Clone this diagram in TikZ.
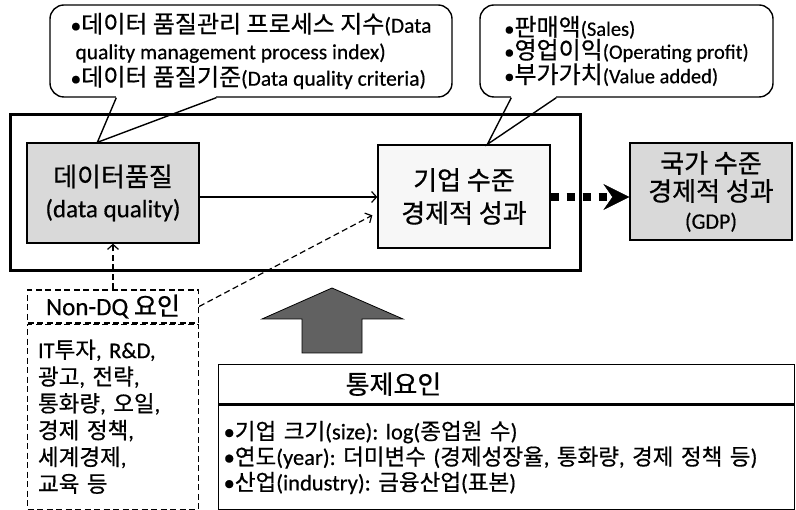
\documentclass[tikz,border=0pt]{standalone}
\usepackage{fontspec}
\setmainfont{Carlito}[FakeBold=0.5]
\newfontfamily\krf{Noto Sans CJK KR}[FakeBold=0.6]
\newcommand\kr[1]{{\krf #1}}
\newcommand\ks[2]{{\krf\fontsize{#1}{#1}\selectfont #2}}
\usetikzlibrary{arrows.meta,calc}
\frenchspacing
\begin{document}
\begin{tikzpicture}[x=1pt,y=-1pt,
  box/.style={draw, line width=1.3pt, inner sep=0pt, align=center},
  graybox/.style={box, fill=gray!30},
  callout/.style={draw, line width=1.4pt, rounded corners=14pt, inner sep=0pt, align=left},
  ptr/.style={line width=1.4pt},
  dq/.style={dash pattern=on 6pt off 3.5pt, line width=1.2pt},
  arr/.style={-{Straight Barb[length=5pt,width=11pt]}, line width=1.2pt}]
\useasboundingbox (0,0) rectangle (796,510);
\frenchspacing

% main frame
\draw[line width=3pt] (10,115) rectangle (580,271);

% boxes
\node[graybox, minimum width=172pt, minimum height=100pt, font=\fontsize{25}{31}\selectfont] (DQ) at (113,193) {\ks{26}{데이터품질}\\(data quality)};
\node[box, fill=gray!6, minimum width=172pt, minimum height=103pt, font=\fontsize{26}{33}\selectfont] (Firm) at (464,196.5) {\kr{기업 수준}\\\kr{경제적 성과}};
\node[graybox, minimum width=162pt, minimum height=97pt, font=\fontsize{26}{28}\selectfont] (GDP) at (711,191.5) {\kr{국가 수준}\\\kr{경제적 성과}\\{\fontsize{22}{28}\selectfont(GDP)}};

% callouts
\node[callout, minimum width=402pt, minimum height=92pt, font=\fontsize{21.5}{26.5}\selectfont] (C1) at (251,51)
  {•\ks{24}{데이터 품질관리 프로세스 지수}(Data\\\hspace*{5pt}quality management process index)\\•\ks{24}{데이터 품질기준}(Data quality criteria)};
\fill[white] ($(C1.south west)+(67,-1.6)$) rectangle ($(C1.south west)+(167,1.6)$);
\draw[ptr] ($(C1.south west)+(67,0)$) -- ($(DQ.north west)+(71,0)$) -- ($(C1.south west)+(167,0)$);

\node[callout, minimum width=293pt, minimum height=92pt, font=\fontsize{20.5}{23}\selectfont] (C2) at (626.5,51)
  {•\ks{24}{판매액}(Sales)\\•\ks{24}{영업이익}(Operating profit)\\•\ks{24}{부가가치}(Value added)};
\fill[white] ($(C2.south west)+(32,-1.6)$) rectangle ($(C2.south west)+(77,1.6)$);
\draw[ptr] ($(C2.south west)+(32,0)$) -- ($(Firm.north west)+(110,0)$) -- ($(C2.south west)+(77,0)$);

% arrows in frame
\draw[arr] ($(DQ.east)+(0,4)$) -- ($(DQ.east -| Firm.west)+(0,4)$);
\draw[line width=8pt, dash pattern=on 8pt off 8pt,
  -{Stealth[length=26pt,width=26pt,inset=9pt,line width=0.5pt]}]
  ($(Firm.east)+(0,0.5)$) -- ($(Firm.east -| GDP.west)+(0,0.5)$);

% Non-DQ box
\node[box, dq, minimum width=171pt, minimum height=33pt, font=\fontsize{25}{28}\selectfont] (ND) at (113,306.5) {Non-DQ \kr{요인}};
\node[box, dq, minimum width=171pt, minimum height=185pt, anchor=north, inner xsep=10.5pt, text width=150pt, align=left, font=\fontsize{22.5}{26.8}\selectfont] (NDL) at (ND.south)
  {IT\kr{투자}, R\&D,\\\kr{광고}, \kr{전략},\\\kr{통화량}, \kr{오일},\\\kr{경제 정책},\\\kr{세계경제},\\\kr{교육 등}};
\draw[dq, arr] (ND.north) -- (DQ.south);
\draw[dq, arr] (ND.east) -- ($(Firm.south west)!0.32!(Firm.north west)+(-5,0)$);

% big up arrow
\filldraw[fill=black!62, draw=black, line width=0.8pt] (332,288) -- (403,319) -- (362,319) -- (362,353) -- (302,353) -- (302,319) -- (262,319) -- cycle;

% control box
\node[box, minimum width=576pt, minimum height=39pt, anchor=north west, inner xsep=5pt, text width=566pt, align=left, font=\fontsize{26}{28}\selectfont] (CT) at (218,364) {\hspace*{122pt}\kr{통제요인}};
\node[box, minimum width=576pt, minimum height=105pt, anchor=north, inner xsep=5pt, text width=566pt, align=left, font=\fontsize{22.5}{25.5}\selectfont] (CB) at (CT.south)
  {•\kr{기업 크기}(size): log(\kr{종업원 수})\\•\kr{연도}(year): \kr{더미변수} (\kr{경제성장율}, \kr{통화량}, \kr{경제 정책 등})\\•\kr{산업}(industry): \kr{금융산업}(\kr{표본})};
\end{tikzpicture}
\end{document}
